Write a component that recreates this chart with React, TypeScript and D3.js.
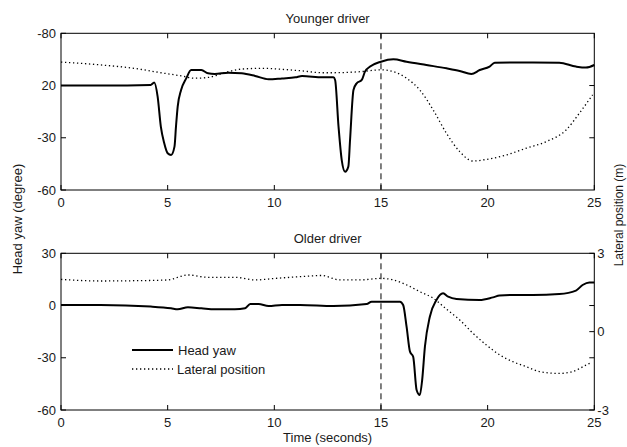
import * as d3 from 'd3';

// time axis
const timeTicks = [0, 5, 10, 15, 20, 25];
const yawTicks = [30, 0, -30, -60];
const youngYawTickLabels = ['-80', '20', '-30', '-60'];
const oldYawTickLabels = ['30', '0', '-30', '-60'];
const youngLatTicks = [1, -1];
const oldLatTicks = [3, 1, 0, -1, -3];
const oldLatTickLabels = ['3', '', '0', '', '-3'];
const eventTime = 15;

// younger driver, head yaw (deg)
const youngYawT = [0, 2, 4.2, 4.37, 4.53, 4.68, 4.84, 5.0, 5.16, 5.32, 5.39, 5.47, 5.63, 5.87, 6.1, 6.58, 6.89, 7.21, 7.84, 8.47, 9.1, 9.73, 10.36, 10.99, 11.3, 12.26, 12.77, 12.85, 13.01, 13.16, 13.32, 13.47, 13.55, 13.71, 13.86, 14.1, 14.25, 14.49, 15, 15.58, 16.2, 17.13, 18.07, 18.69, 19.24, 19.63, 20.09, 20.33, 21.18, 22.12, 23.36, 24.14, 24.61, 25];
const youngYaw = [0, 0, 0.3, 1.7, -6.4, -23.6, -33.2, -38.9, -39.9, -35.1, -23.6, -12.1, -2.6, 4.1, 8.9, 8.9, 7.0, 6.6, 7.4, 7.0, 5.5, 3.6, 4.1, 4.7, 5.5, 4.7, 4.7, 3.2, -23.6, -42.8, -49.5, -46.6, -31.3, -2.6, 1.3, 3.2, 8.0, 10.9, 13.7, 15.1, 13.7, 11.8, 9.9, 8.4, 6.6, 8.9, 10.9, 13.1, 13.3, 13.3, 13.1, 10.9, 10.3, 11.8];

// younger driver, lateral position (m)
const youngLatT = [0, 1.85, 3.42, 4.68, 5.63, 6.26, 6.89, 7.84, 8.47, 9.42, 10.36, 11.31, 12.26, 12.77, 14.02, 15, 15.58, 16.2, 16.82, 17.45, 18.07, 18.69, 19.31, 19.94, 20.87, 21.81, 22.74, 23.68, 24.3, 24.92];
const youngLat = [1.9, 1.79, 1.66, 1.49, 1.37, 1.28, 1.31, 1.53, 1.63, 1.66, 1.62, 1.56, 1.49, 1.49, 1.53, 1.6, 1.53, 1.28, 0.83, 0.06, -0.83, -1.53, -1.89, -1.83, -1.66, -1.4, -1.15, -0.7, -0.06, 0.64];

// older driver, head yaw (deg)
const oldYawT = [0, 1.85, 4.21, 5.16, 5.47, 5.95, 6.58, 7.21, 8.15, 8.63, 8.87, 9.26, 9.73, 10.36, 11.21, 12.77, 14.33, 14.56, 15, 15.89, 16.04, 16.2, 16.36, 16.51, 16.67, 16.82, 16.93, 17.06, 17.29, 17.6, 17.91, 18.15, 18.54, 19.63, 20.25, 20.56, 21.34, 22.12, 23.36, 24.14, 24.45, 24.77, 25];
const oldYaw = [0.3, 0.3, -0.6, -1.6, -2.2, -1.0, -1.6, -2.2, -2.2, -1.6, 0.9, 0.9, -0.3, 0.3, 0.3, -0.3, 0.9, 2.2, 2.2, 2.2, 0.3, -12.1, -26.5, -29.4, -48.5, -51.4, -42.8, -23.6, -6.4, 3.2, 7.0, 5.1, 3.8, 3.2, 4.7, 5.7, 6.1, 6.1, 6.6, 8.6, 11.8, 13.3, 13.3];

// older driver, lateral position (m)
const oldLatT = [0, 1.85, 3.42, 5.0, 5.95, 6.89, 8.15, 9.1, 10.05, 11.31, 12.2, 13.08, 14.02, 15, 15.58, 16.2, 16.82, 17.45, 18.07, 18.69, 19.31, 19.94, 20.56, 21.18, 21.81, 22.43, 23.36, 23.99, 24.61, 24.84];
const oldLat = [2.0, 1.94, 1.95, 1.98, 2.17, 2.08, 2.08, 1.98, 2.04, 2.11, 2.15, 1.98, 1.98, 2.04, 1.98, 1.79, 1.53, 1.28, 0.86, 0.45, -0.06, -0.51, -0.89, -1.15, -1.34, -1.53, -1.6, -1.53, -1.28, -1.19];

const W = 627;
const H = 447;
const left = 61;
const right = 594.3;
const font = '"Liberation Sans", Arial, sans-serif';
const fs = 13;
const ink = '#1a1a1a';

type PanelProps = {
  top: number;
  bottom: number;
  title: string;
  yawT: number[];
  yaw: number[];
  latT: number[];
  lat: number[];
  yawLabels: string[];
  latTicks: number[];
  latLabels?: string[];
};

function Panel(p: PanelProps) {
  const x = d3.scaleLinear().domain([0, 25]).range([left, right]);
  const yL = d3.scaleLinear().domain([-60, 30]).range([p.bottom, p.top]);
  const yR = d3.scaleLinear().domain([-3, 3]).range([p.bottom, p.top]);
  const yawLine = d3.line<number>()
    .x((_, i) => x(p.yawT[i]))
    .y(d => yL(d))
    .curve(d3.curveMonotoneX);
  const latLine = d3.line<number>()
    .x((_, i) => x(p.latT[i]))
    .y(d => yR(d))
    .curve(d3.curveMonotoneX);
  const tk = 5;
  return (
    <g fontFamily={font} fontSize={fs} fill={ink}>
      <text x={(left + right) / 2} y={p.top - 10} textAnchor="middle">{p.title}</text>
      <path d={yawLine(p.yaw) || ''} fill="none" stroke="#000" strokeWidth={2} strokeLinejoin="round" />
      <path d={latLine(p.lat) || ''} fill="none" stroke="#000" strokeWidth={1.3} strokeDasharray="1.3,2.7" />
      <line x1={x(eventTime)} x2={x(eventTime)} y1={p.top} y2={p.bottom} stroke="#000" strokeWidth={1} strokeDasharray="6,4" />
      <rect x={left} y={p.top} width={right - left} height={p.bottom - p.top} fill="none" stroke="#000" strokeWidth={1} />
      {timeTicks.map(t => (
        <g key={'x' + t}>
          <line x1={x(t)} x2={x(t)} y1={p.bottom} y2={p.bottom - tk} stroke="#000" />
          <line x1={x(t)} x2={x(t)} y1={p.top} y2={p.top + tk} stroke="#000" />
          <text x={x(t)} y={p.bottom + 17} textAnchor="middle">{t}</text>
        </g>
      ))}
      {yawTicks.map((v, i) => (
        <g key={'y' + v}>
          <line x1={left} x2={left + tk} y1={yL(v)} y2={yL(v)} stroke="#000" />
          <text x={left - 5} y={yL(v) + 4.5} textAnchor="end">{p.yawLabels[i]}</text>
        </g>
      ))}
      {p.latTicks.map((v, i) => (
        <g key={'r' + v}>
          <line x1={right} x2={right - tk} y1={yR(v)} y2={yR(v)} stroke="#000" />
          {p.latLabels && p.latLabels[i] ? (
            <text x={right + 3} y={yR(v) + 4.5} textAnchor="start">{p.latLabels[i]}</text>
          ) : null}
        </g>
      ))}
    </g>
  );
}

export default function App() {
  const lx1 = 132;
  const lx2 = 173;
  return (
    <svg width={W} height={H} style={{ position: 'absolute', left: 0, top: 0, background: '#fff' }}>
      <rect width={W} height={H} fill="#fff" />
      <Panel top={33.3} bottom={190} title="Younger driver" yawT={youngYawT} yaw={youngYaw}
        latT={youngLatT} lat={youngLat} yawLabels={youngYawTickLabels} latTicks={youngLatTicks} />
      <Panel top={253.3} bottom={410} title="Older driver" yawT={oldYawT} yaw={oldYaw}
        latT={oldLatT} lat={oldLat} yawLabels={oldYawTickLabels} latTicks={oldLatTicks} latLabels={oldLatTickLabels} />
      <g fontFamily={font} fontSize={fs} fill={ink}>
        <line x1={lx1} x2={lx2} y1={350} y2={350} stroke="#000" strokeWidth={2} />
        <text x={178} y={354.5}>Head yaw</text>
        <line x1={lx1} x2={lx2} y1={369} y2={369} stroke="#000" strokeWidth={1.3} strokeDasharray="1.3,2.7" />
        <text x={177} y={373.5}>Lateral position</text>
        <text x={(left + right) / 2} y={442} textAnchor="middle">Time (seconds)</text>
        <text transform="translate(21.5,219) rotate(-90)" textAnchor="middle">Head yaw (degree)</text>
        <text transform="translate(622.5,215) rotate(-90)" textAnchor="middle" fontSize={12}>Lateral position (m)</text>
      </g>
    </svg>
  );
}
